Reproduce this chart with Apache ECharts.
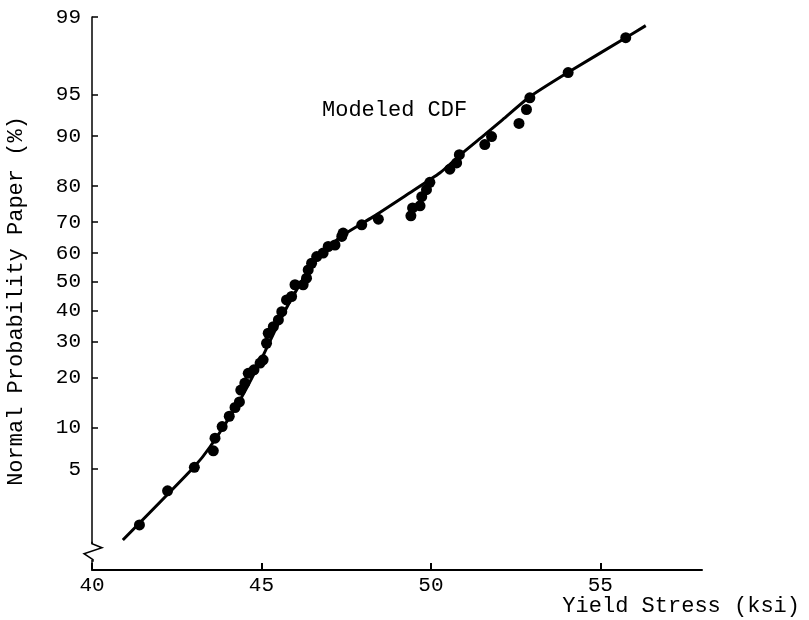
<!DOCTYPE html>
<html>
<head>
<meta charset="utf-8">
<script src="https://cdn.jsdelivr.net/npm/echarts@6/dist/echarts.min.js"></script>
<style>html,body{margin:0;padding:0;background:#fff}#c{width:809px;height:620px}</style>
</head>
<body>
<div id="c"></div>
<script>
// Observed yield stress (ksi) and cumulative probability (%)
const yieldStress = [41.40,42.23,43.02,43.58,43.63,43.84,44.05,44.22,44.35,44.39,44.51,44.61,44.78,44.96,45.05,45.15,45.20,45.35,45.50,45.60,45.74,45.89,45.99,46.23,46.33,46.38,46.48,46.63,46.82,46.97,47.17,47.37,47.41,47.96,48.45,49.41,49.46,49.68,49.73,49.87,49.97,50.56,50.76,50.84,51.59,51.79,52.60,52.82,52.92,54.05,55.75];
const cumPct      = [1.64,3.33,5.17,6.9,8.5,10.2,11.9,13.5,14.6,17.1,18.7,21.1,22.0,23.8,24.7,29.5,32.6,34.7,36.9,39.7,43.7,44.9,49.0,49.0,51.3,54.2,56.5,58.8,60.0,62.2,62.7,65.5,66.6,69.2,70.9,71.9,74.2,74.8,77.3,79.1,80.9,83.9,85.2,86.8,88.6,89.9,91.8,93.5,94.7,96.7,98.4];
// Modeled CDF
const modelX   = [40.91,43.01,43.48,44.37,44.96,45.55,46.14,46.58,47.02,47.46,48.29,49.29,50.27,50.91,51.59,52.12,52.92,54.04,55.75,56.34];
const modelPct = [1.17,5.2,7.35,15.0,24.1,36.9,49.3,57.0,62.4,66.3,71.6,77.8,83.1,87.0,90.2,92.3,94.8,96.7,98.4,98.78];
// Axis ticks
const yTickPct = [5,10,20,30,40,50,60,70,80,90,95,99];
const xMin = 40, xMax = 58, xStep = 5;
const yMinPct = 0.57, yMaxPct = 99;   // bottom of paper / top tick
const breakPct = 0.89;                 // axis break position

function probit(p){
  const a=[-3.969683028665376e+01,2.209460984245205e+02,-2.759285104469687e+02,1.383577518672690e+02,-3.066479806614716e+01,2.506628277459239e+00];
  const b=[-5.447609879822406e+01,1.615858368580409e+02,-1.556989798598866e+02,6.680131188771972e+01,-1.328068155288572e+01];
  const c=[-7.784894002430293e-03,-3.223964580411365e-01,-2.400758277161838e+00,-2.549732539343734e+00,4.374664141464968e+00,2.938163982698783e+00];
  const d=[7.784695709041462e-03,3.224671290700398e-01,2.445134137142996e+00,3.754408661907416e+00];
  const pl=0.02425, ph=1-pl; let q,r;
  if(p<pl){q=Math.sqrt(-2*Math.log(p));return (((((c[0]*q+c[1])*q+c[2])*q+c[3])*q+c[4])*q+c[5])/((((d[0]*q+d[1])*q+d[2])*q+d[3])*q+1);}
  if(p>ph){q=Math.sqrt(-2*Math.log(1-p));return -(((((c[0]*q+c[1])*q+c[2])*q+c[3])*q+c[4])*q+c[5])/((((d[0]*q+d[1])*q+d[2])*q+d[3])*q+1);}
  q=p-0.5;r=q*q;return (((((a[0]*r+a[1])*r+a[2])*r+a[3])*r+a[4])*r+a[5])*q/(((((b[0]*r+b[1])*r+b[2])*r+b[3])*r+b[4])*r+1);
}
const z = pct => probit(pct/100);

const FONT = '"Liberation Mono", "DejaVu Sans Mono", monospace';
const pts = yieldStress.map((x,i)=>[x, z(cumPct[i])]);
const curve = modelX.map((x,i)=>[x, z(modelPct[i])]);
const yTickZ = yTickPct.map(z);

const chart = echarts.init(document.getElementById('c'), null, {renderer:'canvas'});
chart.setOption({
  animation:false,
  backgroundColor:'#fff',
  grid:{left:92, right:107, top:17, bottom:50},
  xAxis:{
    type:'value', min:xMin, max:xMax, interval:xStep,
    axisLine:{show:true, onZero:false, lineStyle:{color:'#000', width:2}},
    axisTick:{show:true, inside:true, length:7, lineStyle:{color:'#000', width:2}},
    axisLabel:{color:'#000', fontFamily:FONT, fontSize:21, margin:5, showMaxLabel:false},
    splitLine:{show:false}
  },
  yAxis:{
    type:'value', min:z(yMinPct), max:z(yMaxPct),
    axisLine:{show:true, onZero:false, lineStyle:{color:'#000', width:1.5}},
    axisTick:{show:true, inside:true, length:6, customValues:yTickZ, lineStyle:{color:'#000', width:1.5}},
    axisLabel:{color:'#000', fontFamily:FONT, fontSize:21, margin:11,
      customValues:yTickZ, padding:[0,0,13,0],
      formatter:function(v){
        for (let i=0;i<yTickZ.length;i++){ if (Math.abs(yTickZ[i]-v)<1e-6) return String(yTickPct[i]); }
        return '';
      }},
    splitLine:{show:false}
  },
  graphic:[
    {type:'text', left:322, top:99, style:{text:'Modeled CDF', font:'22px '+FONT, fill:'#000'}},
    {type:'text', right:9, top:595, style:{text:'Yield Stress (ksi)', font:'22px '+FONT, fill:'#000'}},
    {type:'text', x:16, y:301, rotation:Math.PI/2, style:{text:'Normal Probability Paper (%)', font:'22px '+FONT, fill:'#000', align:'center', verticalAlign:'middle'}}
  ],
  series:[
    {type:'line', data:curve, smooth:0.2, symbol:'none', lineStyle:{color:'#000', width:3}, z:2},
    {type:'scatter', data:pts, symbol:'circle', symbolSize:11, itemStyle:{color:'#000', opacity:1}, z:3},
    {type:'custom', data:[[xMin, z(breakPct)]], clip:false, z:5,
      renderItem:function(params, api){
        const p = api.coord([api.value(0), api.value(1)]);
        const x = p[0], y = p[1];
        return {type:'group', children:[
          {type:'rect', shape:{x:x-3, y:y-8, width:6, height:16}, style:{fill:'#fff'}},
          {type:'polyline', shape:{points:[[x,y-10],[x,y-8],[x+10,y-4],[x-8,y+2],[x+1,y+8],[x+1,y+10]]},
            style:{stroke:'#000', lineWidth:1.5, fill:null}}
        ]};
      }}
  ]
});
</script>
</body>
</html>
